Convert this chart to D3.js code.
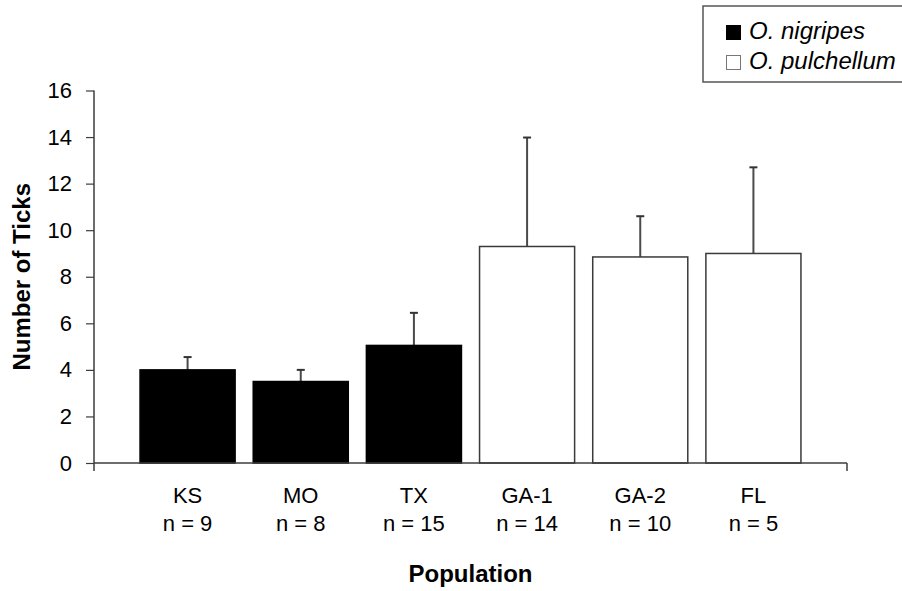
<!DOCTYPE html>
<html>
<head>
<meta charset="utf-8">
<script src="https://cdn.jsdelivr.net/npm/d3@7"></script>
<style>
  html, body { margin: 0; padding: 0; background: #fff; }
  svg { display: block; }
  text { font-family: "Liberation Sans", Arial, sans-serif; fill: #000; }
</style>
</head>
<body>
<svg id="chart" width="902" height="591"></svg>
<script>
// Tick burden per population (mean with upper SD bar)
const populations = ["KS", "MO", "TX", "GA-1", "GA-2", "FL"];
const sampleSizes = [9, 8, 15, 14, 10, 5];
const species = ["O. nigripes", "O. nigripes", "O. nigripes", "O. pulchellum", "O. pulchellum", "O. pulchellum"];
const meanTicks = [4.0, 3.5, 5.05, 9.3, 8.85, 9.0];
const sdTicks = [0.55, 0.5, 1.4, 4.68, 1.75, 3.7];
const yTickValues = [0, 2, 4, 6, 8, 10, 12, 14, 16];
const legendSpecies = ["O. nigripes", "O. pulchellum"];
const speciesFill = { "O. nigripes": "#000", "O. pulchellum": "#fff" };
const speciesStroke = { "O. nigripes": "#000", "O. pulchellum": "#3a3a3a" };

const svg = d3.select("#chart");
const axisColor = "#3c3c3c";

const y = d3.scaleLinear().domain([0, 16]).range([463, 90.5]);
const x = d3.scaleBand().domain(populations).range([131, 810])
  .paddingInner(0.16).paddingOuter(0.08);

const rows = populations.map((p, i) => ({
  pop: p, n: sampleSizes[i], sp: species[i], mean: meanTicks[i], sd: sdTicks[i]
}));

// Error bars (upper only), drawn first so bars sit on top of the stem base
const err = svg.append("g");
err.selectAll("line.stem").data(rows).join("line")
  .attr("x1", d => x(d.pop) + x.bandwidth() / 2)
  .attr("x2", d => x(d.pop) + x.bandwidth() / 2)
  .attr("y1", d => y(d.mean))
  .attr("y2", d => y(d.mean + d.sd))
  .attr("stroke", "#4a4a4a").attr("stroke-width", 2);
err.selectAll("line.cap").data(rows).join("line")
  .attr("x1", d => x(d.pop) + x.bandwidth() / 2 - 4)
  .attr("x2", d => x(d.pop) + x.bandwidth() / 2 + 4)
  .attr("y1", d => y(d.mean + d.sd))
  .attr("y2", d => y(d.mean + d.sd))
  .attr("stroke", "#333").attr("stroke-width", 2);

// Bars
svg.append("g").selectAll("rect").data(rows).join("rect")
  .attr("x", d => x(d.pop))
  .attr("y", d => y(d.mean))
  .attr("width", x.bandwidth())
  .attr("height", d => y(0) - y(d.mean))
  .attr("fill", d => speciesFill[d.sp])
  .attr("stroke", d => speciesStroke[d.sp])
  .attr("stroke-width", 1.5);

// Y axis
const yAxis = svg.append("g")
  .attr("transform", "translate(94,0)")
  .call(d3.axisLeft(y).tickValues(yTickValues).tickSize(8).tickPadding(14));
yAxis.select(".domain").remove();
yAxis.selectAll(".tick line").attr("stroke", axisColor).attr("stroke-width", 1.2);
yAxis.selectAll(".tick text")
  .style("font-size", "22px").attr("fill", "#000");
svg.append("line")
  .attr("x1", 94).attr("x2", 94)
  .attr("y1", y(16)).attr("y2", y(0) + 8)
  .attr("stroke", axisColor).attr("stroke-width", 1.5);

// X axis baseline with end ticks
svg.append("line")
  .attr("x1", 94).attr("x2", 847)
  .attr("y1", y(0)).attr("y2", y(0))
  .attr("stroke", axisColor).attr("stroke-width", 1.5);
svg.append("line")
  .attr("x1", 847).attr("x2", 847)
  .attr("y1", y(0)).attr("y2", y(0) + 8)
  .attr("stroke", axisColor).attr("stroke-width", 1.5);

// Category labels with sample sizes
const cats = svg.append("g");
cats.selectAll("text.pop").data(rows).join("text")
  .attr("class", "pop")
  .attr("x", d => x(d.pop) + x.bandwidth() / 2)
  .attr("y", 503)
  .attr("text-anchor", "middle")
  .style("font-size", "22px")
  .text(d => d.pop);
cats.selectAll("text.n").data(rows).join("text")
  .attr("class", "n")
  .attr("x", d => x(d.pop) + x.bandwidth() / 2)
  .attr("y", 531)
  .attr("text-anchor", "middle")
  .style("font-size", "22px")
  .text(d => "n = " + d.n);

// Axis titles
svg.append("text")
  .attr("x", (94 + 847) / 2).attr("y", 582)
  .attr("text-anchor", "middle")
  .style("font-size", "24px").style("font-weight", "bold")
  .text("Population");
svg.append("text")
  .attr("transform", `translate(30,${(y(0) + y(16)) / 2}) rotate(-90)`)
  .attr("text-anchor", "middle")
  .style("font-size", "24px").style("font-weight", "bold")
  .text("Number of Ticks");

// Legend
const legend = svg.append("g");
legend.append("rect")
  .attr("x", 703).attr("y", 6).attr("width", 240).attr("height", 76)
  .attr("fill", "#fff").attr("stroke", "#555").attr("stroke-width", 1.5);
const items = legend.selectAll("g.item").data(legendSpecies).join("g")
  .attr("class", "item")
  .attr("transform", (d, i) => `translate(0,${i * 30})`);
items.append("rect")
  .attr("x", 726.5).attr("y", 25.5).attr("width", 14).attr("height", 14)
  .attr("fill", d => speciesFill[d])
  .attr("stroke", d => d === "O. nigripes" ? "#000" : "#777")
  .attr("stroke-width", 1);
items.append("text")
  .attr("x", 749).attr("y", 39)
  .style("font-size", "24px").style("font-style", "italic")
  .text(d => d);
</script>
</body>
</html>
